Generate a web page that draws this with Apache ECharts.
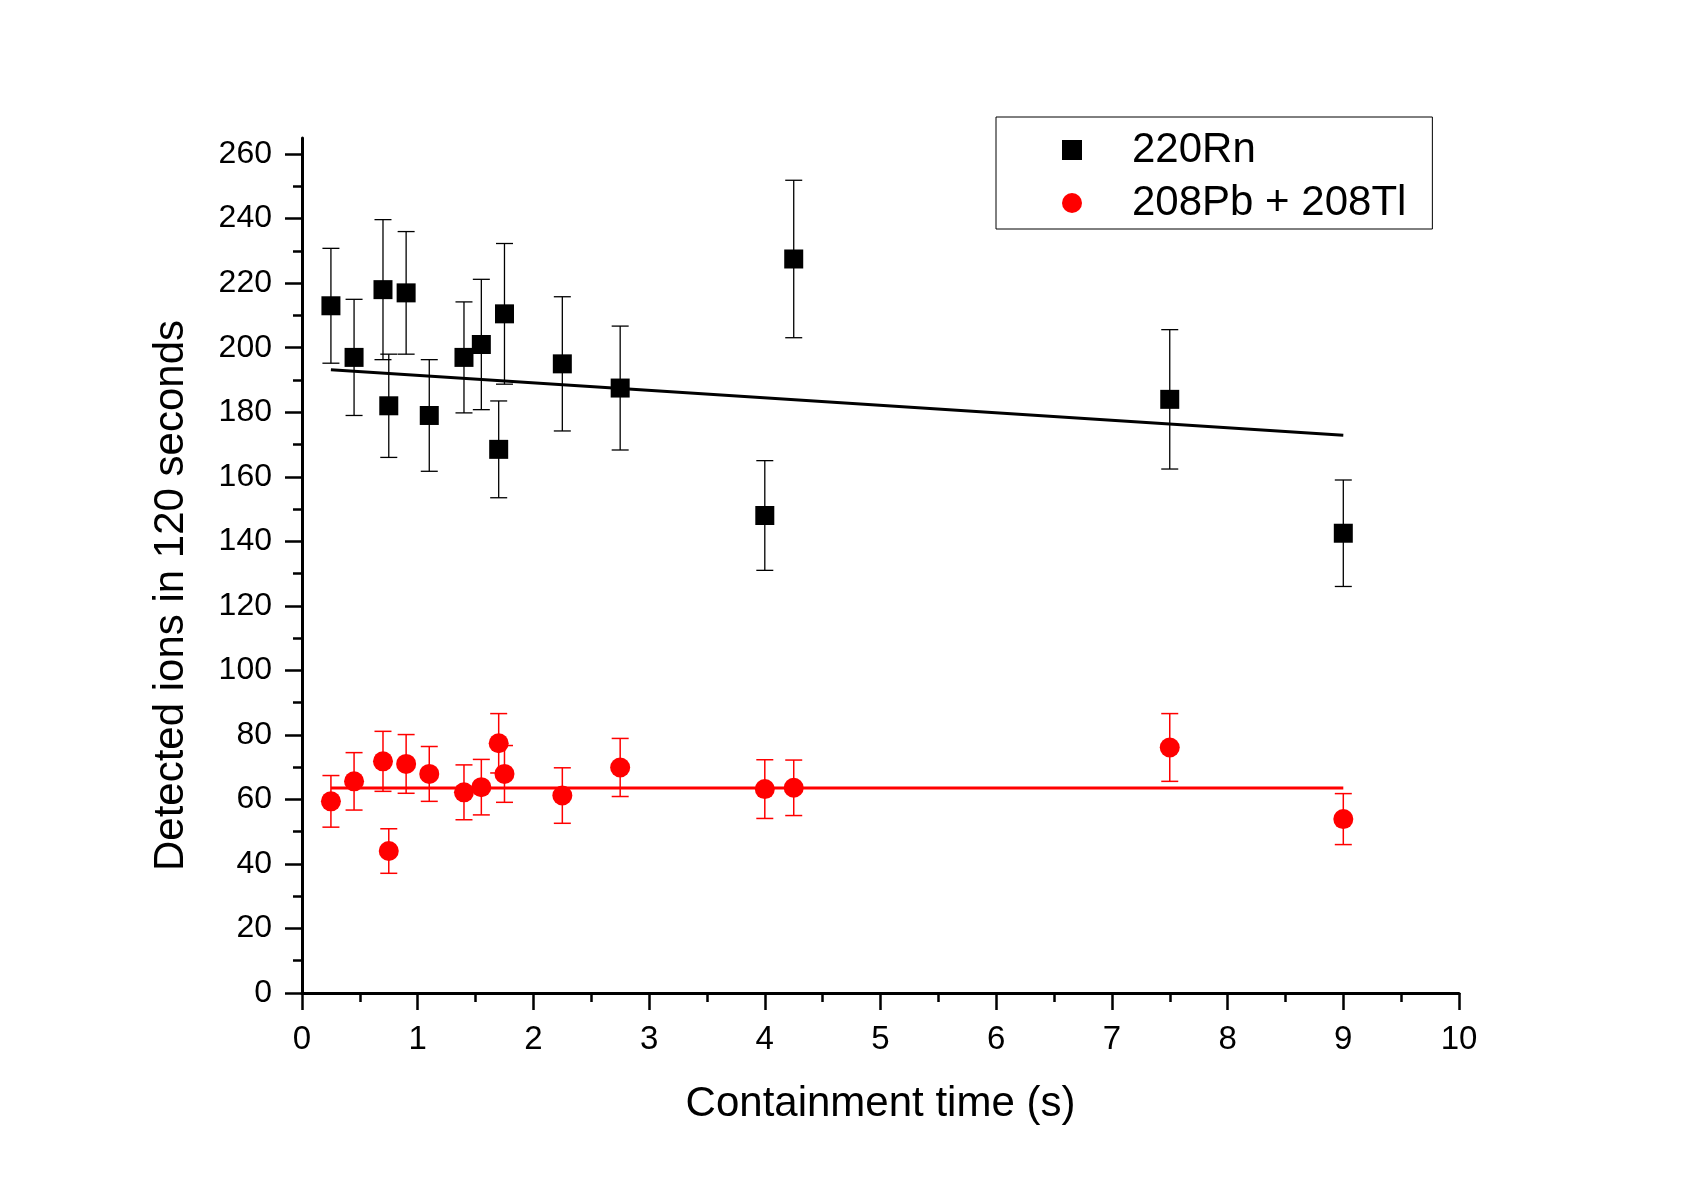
<!DOCTYPE html>
<html>
<head>
<meta charset="utf-8">
<script src="https://cdn.jsdelivr.net/npm/echarts@6.0.0/dist/echarts.min.js"></script>
<style>
  html, body { margin: 0; padding: 0; background: #fff; }
  #chart { width: 1696px; height: 1192px; }
</style>
</head>
<body>
<div id="chart"></div>
<script>
// containment time (s) for each measurement
const timeS = [0.25, 0.45, 0.7, 0.75, 0.9, 1.1, 1.4, 1.55, 1.7, 1.75, 2.25, 2.75, 4.0, 4.25, 7.5, 9.0];

// 220Rn counts and their errors
const rnCounts = [213, 197, 218, 182, 217, 179, 197, 201, 168.5, 210.5, 195, 187.5, 148, 227.5, 184, 142.5];
const rnErr = [17.8, 18, 21.7, 16, 19, 17.3, 17.2, 20.2, 15, 21.8, 20.8, 19.2, 17, 24.4, 21.6, 16.5];

// 208Pb + 208Tl counts and their errors
const pbCounts = [59.4, 65.6, 71.8, 44, 71, 67.9, 62.2, 63.8, 77.4, 67.9, 61.2, 69.9, 63.2, 63.6, 76.1, 53.9];
const pbErr = [8, 8.9, 9.3, 6.9, 9.1, 8.5, 8.5, 8.6, 9.2, 8.8, 8.6, 9, 9.1, 8.6, 10.5, 7.9];

// linear fits (end points)
const fitX = [0.25, 9.0];
const rnFit = [193.2, 172.9];
const pbFit = [63.5, 63.5];

// y axis ticks
const yMajor = [0, 20, 40, 60, 80, 100, 120, 140, 160, 180, 200, 220, 240, 260];
const yMinor = [10, 30, 50, 70, 90, 110, 130, 150, 170, 190, 210, 230, 250];

const font = "Liberation Sans, Arial, Helvetica, sans-serif";
const RED = "#ff0000";

function errorBars(xs, ys, errs, color, width) {
  return {
    type: "custom",
    silent: true,
    z: 1,
    data: xs.map((x, i) => [x, ys[i] - errs[i], ys[i] + errs[i]]),
    encode: { x: 0, y: [1, 2] },
    renderItem: (params, api) => {
      const lo = api.coord([api.value(0), api.value(1)]);
      const hi = api.coord([api.value(0), api.value(2)]);
      const half = 8.5;
      const style = { stroke: color, lineWidth: width };
      return {
        type: "group",
        children: [
          { type: "line", shape: { x1: lo[0], y1: lo[1], x2: hi[0], y2: hi[1] }, style },
          { type: "line", shape: { x1: lo[0] - half, y1: lo[1], x2: lo[0] + half, y2: lo[1] }, style },
          { type: "line", shape: { x1: hi[0] - half, y1: hi[1], x2: hi[0] + half, y2: hi[1] }, style },
        ],
      };
    },
  };
}

const axisLineStyle = { color: "#000", width: 3 };

const option = {
  backgroundColor: "#fff",
  animation: false,
  textStyle: { fontFamily: font, color: "#000" },
  grid: { left: 302, right: 237, top: 138, bottom: 199 },
  legend: {
    left: 996,
    top: 117,
    orient: "vertical",
    borderColor: "#000",
    borderWidth: 1,
    padding: [12, 26, 5, 66],
    itemGap: 11,
    itemWidth: 20,
    itemHeight: 20,
    itemStyle: { opacity: 1 },
    textStyle: { fontSize: 42, fontFamily: font, color: "#000", padding: [0, 0, 0, 45] },
    data: [
      { name: "220Rn", icon: "rect" },
      { name: "208Pb + 208Tl", icon: "circle" },
    ],
  },
  xAxis: {
    type: "value",
    min: 0,
    max: 10,
    interval: 1,
    name: "Containment time (s)",
    nameLocation: "middle",
    nameGap: 90,
    nameTextStyle: { fontSize: 42, fontFamily: font, color: "#000" },
    axisLine: { lineStyle: axisLineStyle },
    axisTick: { length: 17, lineStyle: { color: "#000", width: 2.5 } },
    minorTick: { show: true, splitNumber: 2, length: 9, lineStyle: { color: "#000", width: 2.5 } },
    axisLabel: { fontSize: 33, margin: 30, color: "#000", fontFamily: font },
    splitLine: { show: false },
  },
  yAxis: [
    {
      type: "value",
      min: 0,
      max: 265,
      interval: 20,
      name: "Detected ions in 120 seconds",
      nameLocation: "middle",
      nameGap: 110,
      nameTextStyle: { fontSize: 42, fontFamily: font, color: "#000", padding: [0, 60, 0, 0] },
      axisLine: { lineStyle: axisLineStyle },
      axisTick: { length: 17, customValues: yMajor, lineStyle: { color: "#000", width: 2.5 } },
      axisLabel: { fontSize: 32, margin: 30, color: "#000", fontFamily: font, customValues: yMajor },
      splitLine: { show: false },
    },
    {
      type: "value",
      min: 0,
      max: 265,
      position: "left",
      offset: 0,
      axisLine: { show: false },
      axisTick: { length: 9, customValues: yMinor, lineStyle: { color: "#000", width: 2.5 } },
      axisLabel: { show: false },
      splitLine: { show: false },
    },
  ],
  series: [
    errorBars(timeS, rnCounts, rnErr, "#000", 1.3),
    errorBars(timeS, pbCounts, pbErr, RED, 1.5),
    {
      type: "line",
      data: fitX.map((x, i) => [x, rnFit[i]]),
      showSymbol: false,
      lineStyle: { color: "#000", width: 3 },
      silent: true,
      z: 2,
    },
    {
      type: "line",
      data: fitX.map((x, i) => [x, pbFit[i]]),
      showSymbol: false,
      lineStyle: { color: RED, width: 3 },
      silent: true,
      z: 2,
    },
    {
      name: "220Rn",
      type: "scatter",
      symbol: "rect",
      symbolSize: 19,
      itemStyle: { color: "#000", opacity: 1 },
      data: timeS.map((x, i) => [x, rnCounts[i]]),
      z: 3,
    },
    {
      name: "208Pb + 208Tl",
      type: "scatter",
      symbol: "circle",
      symbolSize: 20,
      itemStyle: { color: RED, opacity: 1 },
      data: timeS.map((x, i) => [x, pbCounts[i]]),
      z: 3,
    },
  ],
};

const chart = echarts.init(document.getElementById("chart"), null, { renderer: "canvas" });
chart.setOption(option);
</script>
</body>
</html>
